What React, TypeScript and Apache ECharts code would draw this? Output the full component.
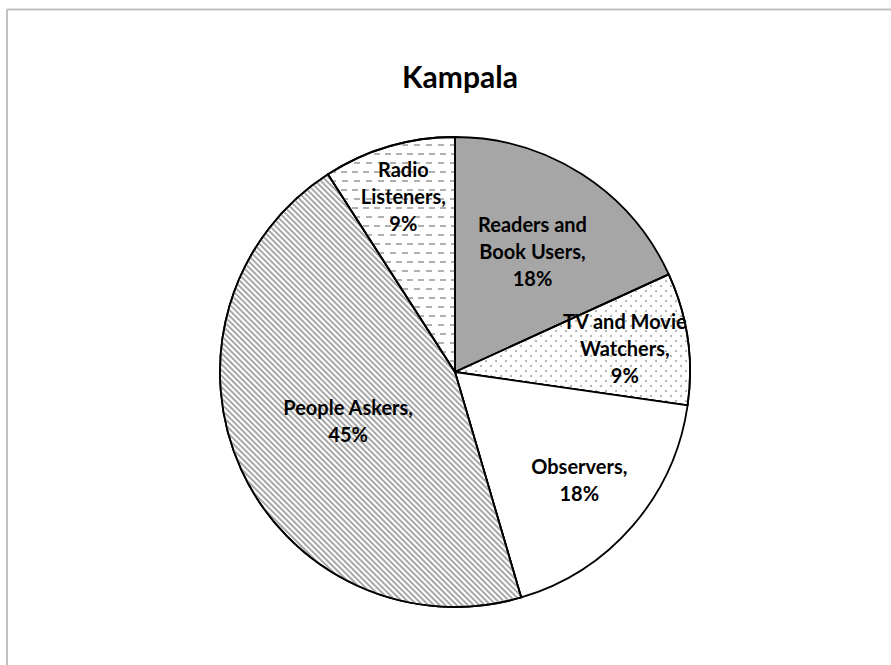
import React, { useEffect, useRef } from "react";
import * as echarts from "echarts";

const titleText = "Kampala";
const categories = [
  "Readers and Book Users",
  "TV and Movie Watchers",
  "Observers",
  "People Askers",
  "Radio Listeners",
];
const labelTexts = [
  "Readers and\nBook Users,",
  "TV and Movie\nWatchers,",
  "Observers,",
  "People Askers,",
  "Radio\nListeners,",
];
const values = [18, 9, 18, 45, 9];
const percentLabels = ["18%", "9%", "18%", "45%", "9%"];

// layout-only settings
const CX = 455;
const CY = 372;
const R = 235;
const labelRadiusRatio = [0.61, 0.73, 0.7, 0.5, 0.78];

const FONT = "Lato, 'Open Sans', sans-serif";

export default function App() {
  const ref = useRef<HTMLDivElement>(null);
  useEffect(() => {
    if (!ref.current) return;
    const chart = echarts.init(ref.current, undefined, { renderer: "svg" });
    const total = values.reduce((a, b) => a + b, 0);
    const cum: number[] = [];
    let acc = 0;
    values.forEach((v) => {
      cum.push(acc);
      acc += v;
    });

    const itemStyles = [
      { color: "#a6a6a6" },
      {
        color: "#ffffff",
        decal: {
          symbol: "circle",
          symbolSize: 1,
          dashArrayX: [[1.6, 7.4], [0, 4.5, 1.6, 2.9]],
          dashArrayY: [1.6, 3],
          color: "#a8a8a8",
        },
      },
      { color: "#ffffff" },
      {
        color: "#ffffff",
        decal: {
          symbol: "rect",
          symbolSize: 1,
          dashArrayX: [1, 0],
          dashArrayY: [1.6, 1.8],
          rotation: Math.PI / 4,
          color: "#a8a8a8",
        },
      },
      {
        color: "#ffffff",
        decal: {
          symbol: "rect",
          symbolSize: 1,
          dashArrayX: [[6, 5], [0, 5.5, 6, 0]],
          dashArrayY: [2, 6.5],
          color: "#b0b0b0",
        },
      },
    ];

    chart.setOption({
      animation: false,
      backgroundColor: "#ffffff",
      title: {
        text: titleText,
        left: CX,
        top: 56,
        textAlign: "center",
        textStyle: {
          fontFamily: FONT,
          fontWeight: "bold",
          fontSize: 30,
          color: "#000000",
        },
      },
      graphic: [
        {
          type: "line",
          shape: { x1: 7, y1: 9.5, x2: 891, y2: 9.5 },
          style: { stroke: "#c0c0c0", lineWidth: 2 },
          silent: true,
        },
        {
          type: "line",
          shape: { x1: 7, y1: 9.5, x2: 7, y2: 665 },
          style: { stroke: "#c0c0c0", lineWidth: 2 },
          silent: true,
        },
      ],
      series: [
        {
          type: "pie",
          center: [CX, CY],
          radius: [0, R],
          startAngle: 90,
          clockwise: true,
          avoidLabelOverlap: false,
          emphasis: { disabled: true },
          itemStyle: { borderColor: "#000000", borderWidth: 1.8 },
          label: {
            show: true,
            position: "inside",
            formatter: (p: any) =>
              labelTexts[p.dataIndex] + "\n" + percentLabels[p.dataIndex],
            fontFamily: FONT,
            fontWeight: "bold",
            fontSize: 20,
            lineHeight: 27,
            color: "#000000",
            align: "center",
          },
          labelLine: { show: false },
          labelLayout: (params: any) => {
            const i = params.dataIndex;
            const mid = ((cum[i] + values[i] / 2) / total) * Math.PI * 2;
            const rr = R * labelRadiusRatio[i];
            return {
              x: CX + rr * Math.sin(mid),
              y: CY - rr * Math.cos(mid),
              align: "center",
              verticalAlign: "middle",
            };
          },
          data: categories.map((name, i) => ({
            name,
            value: values[i],
            itemStyle: itemStyles[i],
          })),
        },
      ],
    });
    return () => chart.dispose();
  }, []);

  return (
    <div
      ref={ref}
      style={{ position: "absolute", left: 0, top: 0, width: 891, height: 665 }}
    />
  );
}
